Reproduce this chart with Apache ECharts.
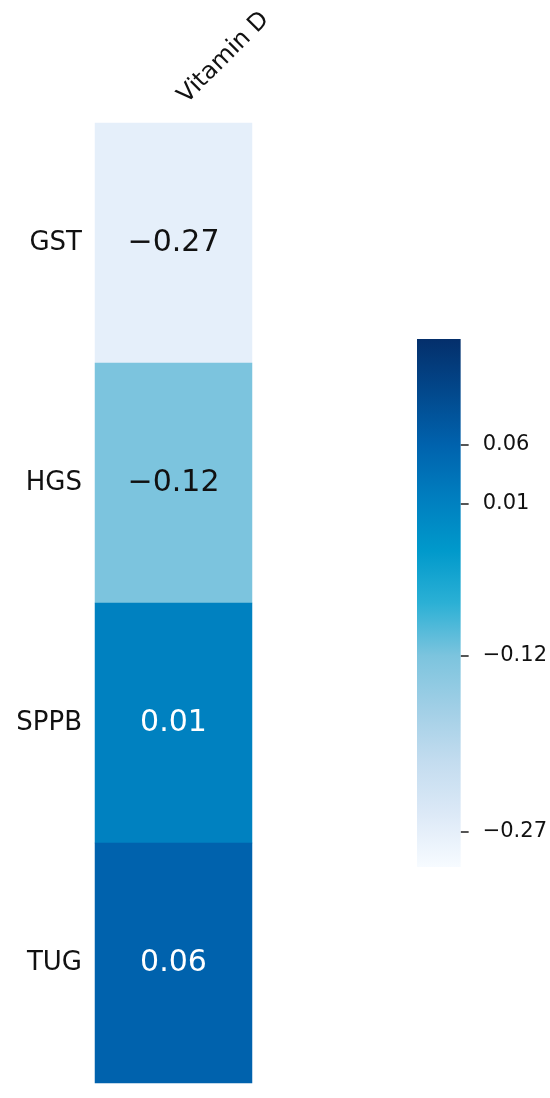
<!DOCTYPE html>
<html>
<head>
<meta charset="utf-8">
<script src="https://cdn.jsdelivr.net/npm/echarts@6/dist/echarts.min.js"></script>
<style>
  html, body { margin: 0; padding: 0; background: #ffffff; }
  #chart { width: 550px; height: 1098px; }
</style>
</head>
<body>
<div id="chart"></div>
<script>
// ---- data ----
const columns = ['Vitamin D'];
const rows = ['GST', 'HGS', 'SPPB', 'TUG'];
const values = [-0.27, -0.12, 0.01, 0.06];
const colorbarTicks = [-0.27, -0.12, 0.01, 0.06];
const colorMin = -0.30;
const colorMax = 0.15;
const cmapColors = ['#f7fbff', '#dce9f7', '#c3dcef', '#a1cfe6', '#7cc4de', '#2bb0d5',
                    '#0099cb', '#007ebf', '#0062ad', '#02488c', '#042f6b'];

const FONT = 'DejaVu Sans';
const fmt = v => (v < 0 ? '\u2212' : '') + Math.abs(v).toFixed(2);

const heatData = values.map((v, i) => ({
  value: [0, i, v],
  label: { color: v < -0.05 ? '#111111' : '#ffffff' }
}));

// gradient for the colorbar (bottom = min, top = max)
const gradStops = cmapColors.map((c, i) => ({ offset: 1 - i / (cmapColors.length - 1), color: c }));

const chart = echarts.init(document.getElementById('chart'), null, { renderer: 'canvas' });
chart.setOption({
  backgroundColor: '#ffffff',
  animation: false,
  textStyle: { fontFamily: FONT },
  grid: [
    { left: 95, right: 298, top: 123, bottom: 15 },
    { left: 417, width: 44, top: 339, height: 528 }
  ],
  xAxis: [
    {
      type: 'category', data: columns, gridIndex: 0, position: 'top',
      axisLine: { show: false }, axisTick: { show: false }, splitLine: { show: false },
      axisLabel: { rotate: -45, margin: 32, fontSize: 24, color: '#111111', fontFamily: FONT, verticalAlign: 'top' }
    },
    { type: 'category', data: ['bar'], gridIndex: 1, show: false, boundaryGap: true }
  ],
  yAxis: [
    {
      type: 'category', data: rows, gridIndex: 0, inverse: true,
      axisLine: { show: false }, axisTick: { show: false }, splitLine: { show: false },
      axisLabel: { margin: 13, fontSize: 26, color: '#111111', fontFamily: FONT }
    },
    {
      type: 'value', gridIndex: 1, position: 'right', min: colorMin, max: colorMax,
      axisLine: { show: true, lineStyle: { color: 'rgba(0,0,0,0)', width: 0 } },
      splitLine: { show: false },
      axisTick: { show: true, customValues: colorbarTicks, length: 8, lineStyle: { color: '#555555', width: 2 } },
      axisLabel: { customValues: colorbarTicks, margin: 22, fontSize: 21, color: '#111111', fontFamily: FONT, formatter: v => fmt(v) }
    }
  ],
  visualMap: {
    show: false,
    type: 'continuous', min: colorMin, max: colorMax, seriesIndex: 0,
    inRange: { color: cmapColors }
  },
  series: [
    {
      type: 'heatmap', xAxisIndex: 0, yAxisIndex: 0,
      data: heatData,
      label: {
        show: true, fontSize: 30, fontFamily: FONT,
        formatter: p => fmt(p.value[2])
      },
      itemStyle: { borderWidth: 0 },
      emphasis: { disabled: true }
    },
    {
      type: 'custom', xAxisIndex: 1, yAxisIndex: 1,
      data: [[0, colorMin, colorMax]],
      silent: true,
      renderItem: (params, api) => {
        const top = api.coord([api.value(0), api.value(2)]);
        const bot = api.coord([api.value(0), api.value(1)]);
        const w = api.size([1, 0])[0];
        return {
          type: 'rect',
          shape: { x: top[0] - w / 2, y: top[1], width: w, height: bot[1] - top[1] },
          style: { fill: new echarts.graphic.LinearGradient(0, 0, 0, 1, gradStops) }
        };
      }
    }
  ]
});
</script>
</body>
</html>
